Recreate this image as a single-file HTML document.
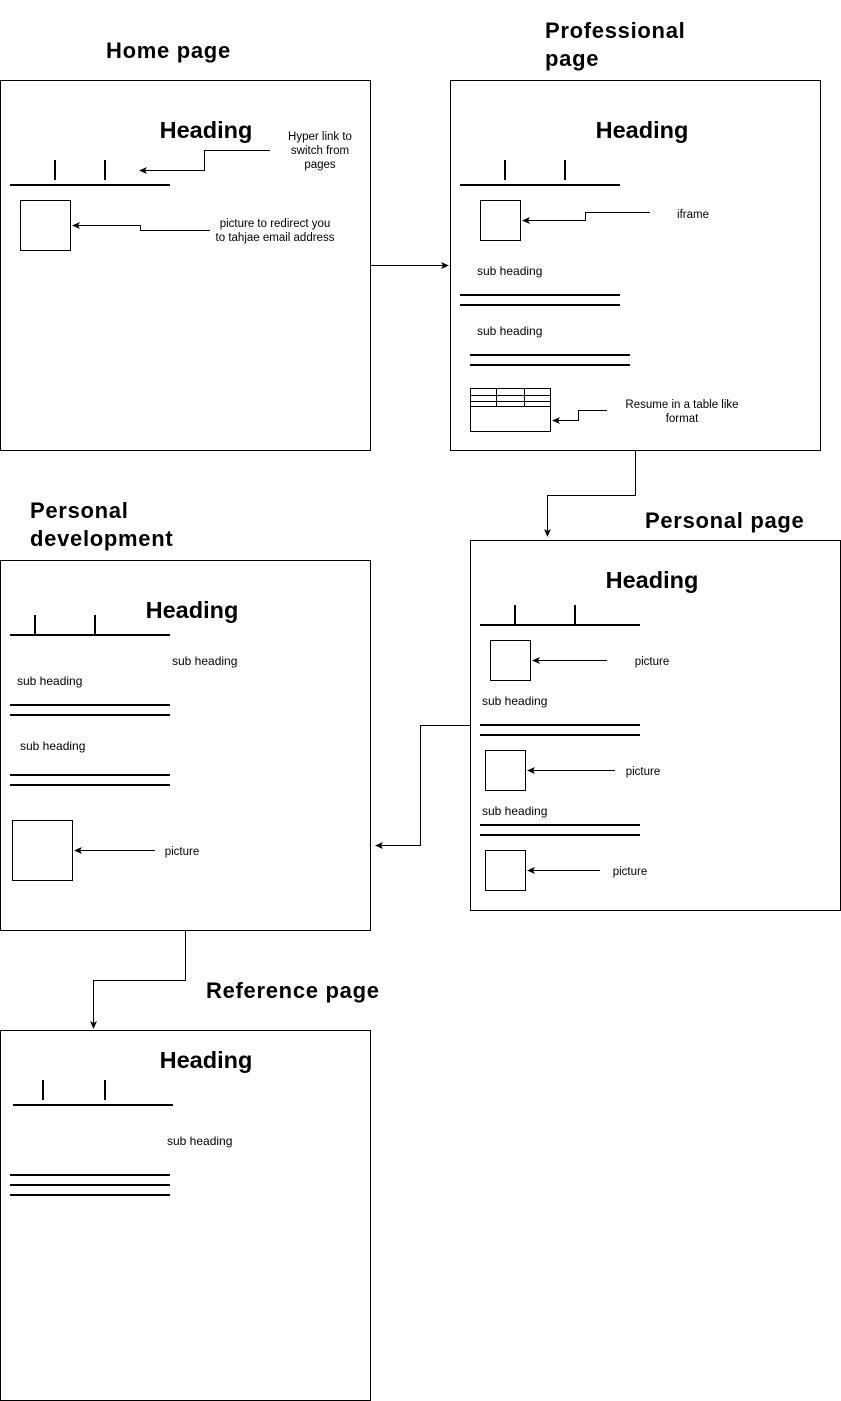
<!DOCTYPE html>
<html><head><meta charset="utf-8"><style>
html,body{margin:0;padding:0;background:#fff;}
svg{display:block;font-family:"Liberation Sans",Arial,sans-serif;}
.t{font-size:22px;font-weight:bold;letter-spacing:0.7px;}
.h{font-size:23.5px;font-weight:bold;text-anchor:middle;}
.s{font-size:12px;}
.c{font-size:11.5px;text-anchor:middle;}
.b{fill:#fff;stroke:#000;stroke-width:1;}
.l2{stroke:#000;stroke-width:2;}
.ln{fill:none;stroke:#000;stroke-width:1;}
</style></head><body>
<svg width="841" height="1401" viewBox="0 0 841 1401">
<defs><marker id="a" markerWidth="8" markerHeight="8" refX="7" refY="4" orient="auto" markerUnits="userSpaceOnUse"><path d="M0,0.5 L8,4 L0,7.5 L2,4 z" fill="#000"/></marker></defs>

<!-- Home -->
<text class="t" x="106" y="58">Home page</text>
<rect class="b" x="0.5" y="80.5" width="370" height="370"/>
<text class="h" x="206" y="138">Heading</text>
<line class="l2" x1="55" y1="160" x2="55" y2="180"/><line class="l2" x1="105" y1="160" x2="105" y2="180"/>
<line class="l2" x1="10" y1="185" x2="170" y2="185"/>
<rect class="b" x="20.5" y="200.5" width="50" height="50"/>
<path class="ln" d="M270,150.5 H204.5 V170.5 H140" marker-end="url(#a)"/>
<text class="c" x="320" y="140">Hyper link to</text><text class="c" x="320" y="154">switch from</text><text class="c" x="320" y="168">pages</text>
<path class="ln" d="M210,230.5 H140.5 V225.5 H73" marker-end="url(#a)"/>
<text class="c" x="275" y="227">picture to redirect you</text><text class="c" x="275" y="241">to tahjae email address</text>
<path class="ln" d="M370,265.5 H448" marker-end="url(#a)"/>

<!-- Professional -->
<text class="t" x="545" y="38">Professional</text><text class="t" x="545" y="66">page</text>
<rect class="b" x="450.5" y="80.5" width="370" height="370"/>
<text class="h" x="642" y="138">Heading</text>
<line class="l2" x1="505" y1="160" x2="505" y2="180"/><line class="l2" x1="565" y1="160" x2="565" y2="180"/>
<line class="l2" x1="460" y1="185" x2="620" y2="185"/>
<rect class="b" x="480.5" y="200.5" width="40" height="40"/>
<path class="ln" d="M650,212.5 H585.5 V220.5 H523" marker-end="url(#a)"/>
<text class="c" x="693" y="218">iframe</text>
<text class="s" x="477" y="275">sub heading</text>
<line class="l2" x1="460" y1="295" x2="620" y2="295"/><line class="l2" x1="460" y1="305" x2="620" y2="305"/>
<text class="s" x="477" y="335">sub heading</text>
<line class="l2" x1="470" y1="355" x2="630" y2="355"/><line class="l2" x1="470" y1="365" x2="630" y2="365"/>
<rect class="b" x="470.5" y="388.5" width="80" height="43"/>
<path class="ln" d="M470,395.5 H550 M470,401.5 H550 M470,406.5 H550 M496.5,388 V407 M524.5,388 V407"/>
<path class="ln" d="M607,410.5 H578.5 V420.5 H553" marker-end="url(#a)"/>
<text class="c" x="682" y="408">Resume in a table like</text><text class="c" x="682" y="422">format</text>
<path class="ln" d="M635.5,450 V495.5 H547.5 V536" marker-end="url(#a)"/>

<!-- Personal page -->
<text class="t" x="645" y="528">Personal page</text>
<rect class="b" x="470.5" y="540.5" width="370" height="370"/>
<text class="h" x="652" y="588">Heading</text>
<line class="l2" x1="515" y1="605" x2="515" y2="625"/><line class="l2" x1="575" y1="605" x2="575" y2="625"/>
<line class="l2" x1="480" y1="625" x2="640" y2="625"/>
<rect class="b" x="490.5" y="640.5" width="40" height="40"/>
<path class="ln" d="M607,660.5 H533" marker-end="url(#a)"/>
<text class="c" x="652" y="665">picture</text>
<text class="s" x="482" y="705">sub heading</text>
<line class="l2" x1="480" y1="725" x2="640" y2="725"/><line class="l2" x1="480" y1="735" x2="640" y2="735"/>
<rect class="b" x="485.5" y="750.5" width="40" height="40"/>
<path class="ln" d="M615,770.5 H528" marker-end="url(#a)"/>
<text class="c" x="643" y="775">picture</text>
<text class="s" x="482" y="815">sub heading</text>
<line class="l2" x1="480" y1="825" x2="640" y2="825"/><line class="l2" x1="480" y1="835" x2="640" y2="835"/>
<rect class="b" x="485.5" y="850.5" width="40" height="40"/>
<path class="ln" d="M600,870.5 H528" marker-end="url(#a)"/>
<text class="c" x="630" y="875">picture</text>
<path class="ln" d="M470,725.5 H420.5 V845.5 H376" marker-end="url(#a)"/>

<!-- Personal development -->
<text class="t" x="30" y="518">Personal</text><text class="t" x="30" y="546">development</text>
<rect class="b" x="0.5" y="560.5" width="370" height="370"/>
<text class="h" x="192" y="618">Heading</text>
<line class="l2" x1="35" y1="615" x2="35" y2="635"/><line class="l2" x1="95" y1="615" x2="95" y2="635"/>
<line class="l2" x1="10" y1="635" x2="170" y2="635"/>
<text class="s" x="172" y="665">sub heading</text>
<text class="s" x="17" y="685">sub heading</text>
<line class="l2" x1="10" y1="705" x2="170" y2="705"/><line class="l2" x1="10" y1="715" x2="170" y2="715"/>
<text class="s" x="20" y="750">sub heading</text>
<line class="l2" x1="10" y1="775" x2="170" y2="775"/><line class="l2" x1="10" y1="785" x2="170" y2="785"/>
<rect class="b" x="12.5" y="820.5" width="60" height="60"/>
<path class="ln" d="M155,850.5 H75" marker-end="url(#a)"/>
<text class="c" x="182" y="855">picture</text>
<path class="ln" d="M185.5,930 V980.5 H93.5 V1028" marker-end="url(#a)"/>

<!-- Reference -->
<text class="t" x="206" y="998">Reference page</text>
<rect class="b" x="0.5" y="1030.5" width="370" height="370"/>
<text class="h" x="206" y="1068">Heading</text>
<line class="l2" x1="43" y1="1080" x2="43" y2="1100"/><line class="l2" x1="105" y1="1080" x2="105" y2="1100"/>
<line class="l2" x1="13" y1="1105" x2="173" y2="1105"/>
<text class="s" x="167" y="1145">sub heading</text>
<line class="l2" x1="10" y1="1175" x2="170" y2="1175"/><line class="l2" x1="10" y1="1185" x2="170" y2="1185"/><line class="l2" x1="10" y1="1195" x2="170" y2="1195"/>
</svg>
</body></html>
